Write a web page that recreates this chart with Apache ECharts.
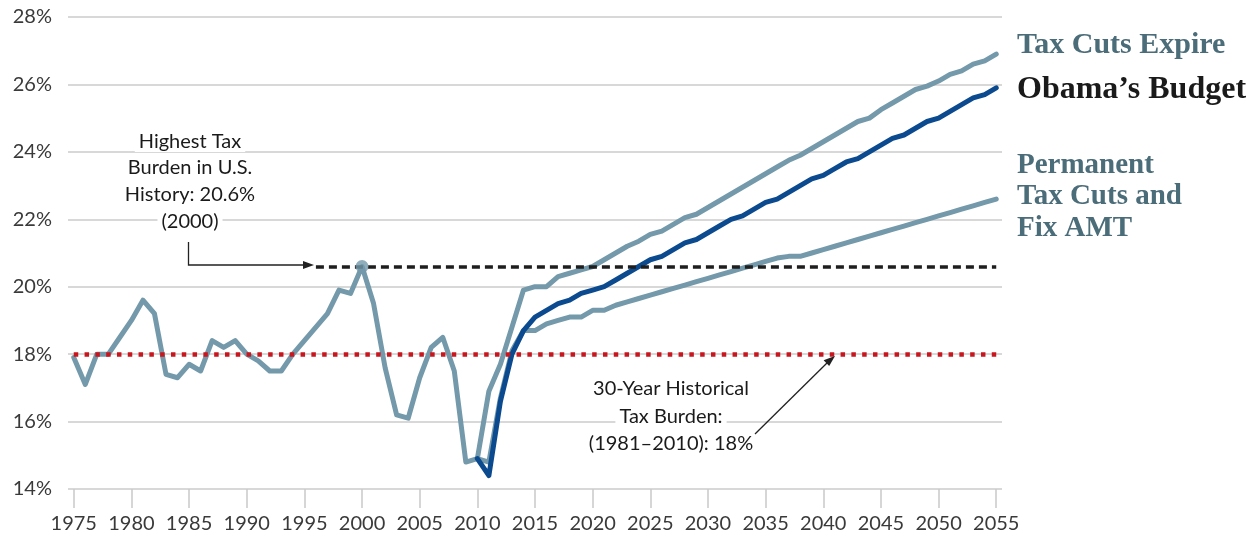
<!DOCTYPE html>
<html><head><meta charset="utf-8">
<script src="https://cdn.jsdelivr.net/npm/echarts@6/dist/echarts.min.js"></script>
<style>html,body{margin:0;padding:0;background:#fff}#c{width:1255px;height:541px}</style>
</head><body><div id="c"></div>
<script>
// ---- data ----
const firstYear = 1975, lastYear = 2055;
const years = [];
for (let y = firstYear; y <= lastYear; y++) years.push(String(y));

// Historical tax burden (% of GDP), 1975-2010
const historical = [17.9, 17.1, 18.0, 18.0, 18.5, 19.0, 19.6, 19.2, 17.4, 17.3,
  17.7, 17.5, 18.4, 18.2, 18.4, 18.0, 17.8, 17.5, 17.5, 18.0,
  18.4, 18.8, 19.2, 19.9, 19.8, 20.6, 19.5, 17.6, 16.2, 16.1,
  17.3, 18.2, 18.5, 17.5, 14.8, 14.9];

// Projections, 2010-2055
const projStart = 2010;
const obamaBudget = [14.9, 14.4, 16.6, 18.0, 18.7, 19.1, 19.3, 19.5, 19.6, 19.8,
  19.9, 20.0, 20.2, 20.4, 20.6, 20.8, 20.9, 21.1, 21.3, 21.4,
  21.6, 21.8, 22.0, 22.1, 22.3, 22.5, 22.6, 22.8, 23.0, 23.2,
  23.3, 23.5, 23.7, 23.8, 24.0, 24.2, 24.4, 24.5, 24.7, 24.9,
  25.0, 25.2, 25.4, 25.6, 25.7, 25.9];
const taxCutsExpire = [14.9, 16.9, 17.7, 18.8, 19.9, 20.0, 20.0, 20.3, 20.4, 20.5,
  20.6, 20.8, 21.0, 21.2, 21.35, 21.55, 21.65, 21.85, 22.05, 22.15,
  22.35, 22.55, 22.75, 22.95, 23.15, 23.35, 23.55, 23.75, 23.9, 24.1,
  24.3, 24.5, 24.7, 24.9, 25.0, 25.25, 25.45, 25.65, 25.85, 25.95,
  26.1, 26.3, 26.4, 26.6, 26.7, 26.9];
const permanentCuts = [14.9, 14.8, 16.7, 18.1, 18.7, 18.7, 18.9, 19.0, 19.1, 19.1,
  19.3, 19.3, 19.45, 19.55, 19.65, 19.75, 19.85, 19.95, 20.05, 20.15,
  20.25, 20.35, 20.45, 20.55, 20.65, 20.75, 20.85, 20.9, 20.9, 21.0,
  21.1, 21.2, 21.3, 21.4, 21.5, 21.6, 21.7, 21.8, 21.9, 22.0,
  22.1, 22.2, 22.3, 22.4, 22.5, 22.6];

const peak = { year: '2000', value: 20.6 };
const historicalAverage = 18;
const peakLineStart = '1996';
const yMin = 14, yMax = 28, yStep = 2;

// ---- helpers ----
function pad(start, arr) {
  const out = years.map(() => null);
  arr.forEach((v, i) => { out[start - firstYear + i] = v; });
  return out;
}

const LIGHT = '#7399aa';
const DARK = '#0b4a8e';
const LABEL_FONT = 'Lato, "Open Sans", sans-serif';
const SERIF = '"Liberation Serif", "DejaVu Serif", serif';

function lineSeries(name, data, color, z) {
  return {
    name, type: 'line', data, z,
    symbol: 'none', connectNulls: false,
    lineStyle: { color, width: 5, cap: 'round', join: 'round' },
    itemStyle: { color }
  };
}

function txt(text, x, y, opts) {
  return {
    type: 'text', z: 100,
    style: Object.assign({
      text, x, y,
      fill: '#1a1a1a',
      font: '20px ' + LABEL_FONT,
      align: 'center', verticalAlign: 'middle',
      textAlign: 'center', textVerticalAlign: 'middle'
    }, opts || {})
  };
}

const chart = echarts.init(document.getElementById('c'), null, { renderer: 'canvas' });

const option = {
  animation: false,
  backgroundColor: '#fff',
  grid: { left: 68, right: 253, top: 17, bottom: 52, containLabel: false },
  xAxis: {
    type: 'category', data: years, boundaryGap: true,
    axisLine: { show: false },
    axisTick: { show: true, alignWithLabel: true, length: 19,
      interval: (i) => i % 5 === 0,
      lineStyle: { color: '#c9c9c9', width: 1.5 } },
    axisLabel: { interval: (i) => i % 5 === 0, margin: 25,
      fontSize: 20, color: '#3a3a3a', fontFamily: LABEL_FONT },
    splitLine: { show: false }
  },
  yAxis: {
    type: 'value', min: yMin, max: yMax, interval: yStep,
    axisLine: { show: false }, axisTick: { show: false },
    axisLabel: { formatter: '{value}%', fontSize: 20, color: '#3a3a3a',
      margin: 16, fontFamily: LABEL_FONT },
    splitLine: { lineStyle: { color: '#cbcbcb', width: 1.5 } }
  },
  series: [
    lineSeries('Historical', pad(firstYear, historical), LIGHT, 2),
    lineSeries('Tax Cuts Expire', pad(projStart, taxCutsExpire), LIGHT, 2),
    lineSeries('Permanent Tax Cuts and Fix AMT', pad(projStart, permanentCuts), LIGHT, 2),
    lineSeries('Obama\u2019s Budget', pad(projStart, obamaBudget), DARK, 3),
    {
      name: 'refs', type: 'line', data: [], z: 4, symbol: 'none',
      markLine: {
        silent: true, symbol: 'none', label: { show: false }, animation: false,
        data: [
          [{ coord: [years[0], historicalAverage],
             lineStyle: { color: '#c8161e', width: 4.5, type: [4.5, 6.3] } },
           { coord: [years[years.length - 1], historicalAverage] }],
          [{ coord: [peakLineStart, peak.value],
             lineStyle: { color: '#1e1e1e', width: 3.5, type: [8, 5] } },
           { coord: [years[years.length - 1], peak.value] }]
        ]
      }
    },
    {
      name: 'peak', type: 'scatter', z: 5, symbol: 'circle', symbolSize: 13,
      itemStyle: { color: LIGHT },
      data: [[peak.year, peak.value]]
    }
  ],
  graphic: [
    // Highest tax burden annotation
    txt('Highest Tax', 190, 142, { backgroundColor: '#fff', padding: [0, 4] }),
    txt('Burden in U.S.', 190, 168, { backgroundColor: '#fff', padding: [0, 4] }),
    txt('History: 20.6%', 190, 195, { backgroundColor: '#fff', padding: [0, 4] }),
    txt('(2000)', 190, 222, { backgroundColor: '#fff', padding: [0, 4] }),
    { type: 'polyline', z: 100, shape: { points: [[188.5, 242], [188.5, 265], [306, 265]] },
      style: { stroke: '#222', lineWidth: 1.3, fill: null } },
    { type: 'polygon', z: 100, shape: { points: [[314, 265], [303, 261], [303, 269]] },
      style: { fill: '#222' } },
    // 30-year average annotation
    txt('30-Year Historical', 671, 389, { backgroundColor: '#fff', padding: [0, 4] }),
    txt('Tax Burden:', 671, 417, { backgroundColor: '#fff', padding: [0, 4] }),
    txt('(1981\u20132010): 18%', 671, 444, { backgroundColor: '#fff', padding: [0, 4] }),
    { type: 'line', z: 100, shape: { x1: 755, y1: 434, x2: 828, y2: 362 },
      style: { stroke: '#222', lineWidth: 1.3 } },
    { type: 'polygon', z: 100, shape: { points: [[835, 356], [823.6, 360.2], [829.2, 366]] },
      style: { fill: '#222' } },
    // series labels
    txt('Tax Cuts Expire', 1017, 45, { align: 'left', textAlign: 'left',
      fill: '#4b6c79', font: 'bold 30px ' + SERIF }),
    txt('Obama\u2019s Budget', 1017, 90, { align: 'left', textAlign: 'left',
      fill: '#1a1a1a', font: 'bold 32px ' + SERIF }),
    txt('Permanent', 1017, 166, { align: 'left', textAlign: 'left',
      fill: '#4b6c79', font: 'bold 29px ' + SERIF }),
    txt('Tax Cuts and', 1017, 197, { align: 'left', textAlign: 'left',
      fill: '#4b6c79', font: 'bold 29px ' + SERIF }),
    txt('Fix AMT', 1017, 229, { align: 'left', textAlign: 'left',
      fill: '#4b6c79', font: 'bold 29px ' + SERIF })
  ]
};
chart.setOption(option);
</script>
</body></html>
